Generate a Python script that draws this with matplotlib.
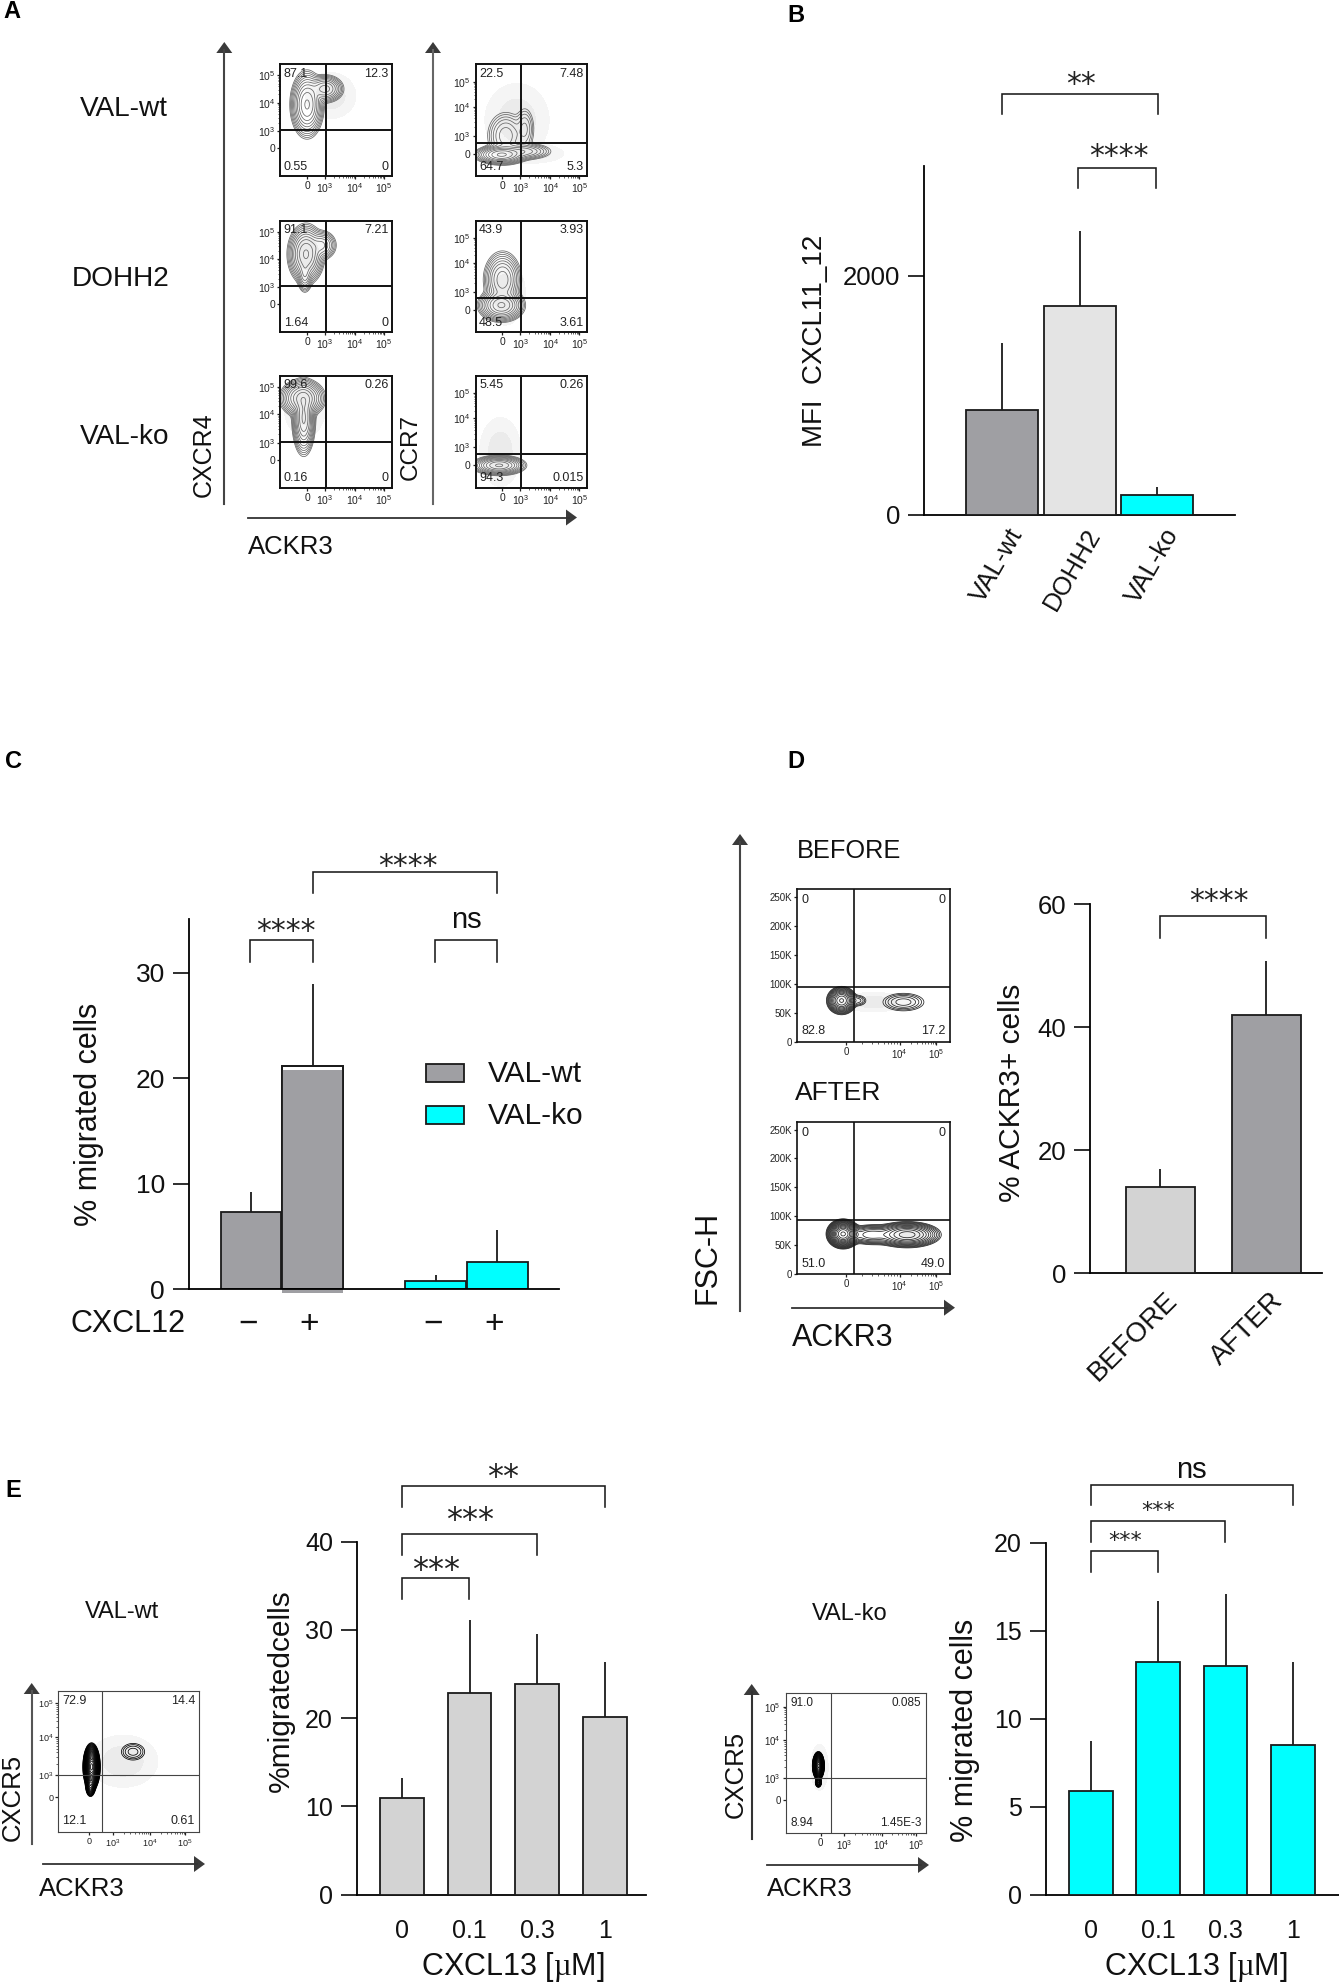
import numpy as np
import matplotlib
matplotlib.use("Agg")
from matplotlib import pyplot as plt
from matplotlib.patches import Polygon, Rectangle
from matplotlib.transforms import ScaledTranslation

W, H = 1339, 1987
plt.rcParams['font.family'] = ['Liberation Sans', 'DejaVu Sans']
plt.rcParams['mathtext.fontset'] = 'custom'
plt.rcParams['mathtext.rm'] = 'Liberation Serif'
plt.rcParams['mathtext.default'] = 'regular'

#---- bar data ----#
b_names = ["VAL-wt", "DOHH2", "VAL-ko"]
b_vals = [872, 1745, 161]
b_tops = [1433, 2372, 233]

c_vals = [7.3, 21.2, 0.8, 2.6]
c_tops = [9.2, 28.9, 1.35, 5.6]
c_signs = ["\u2212", "+", "\u2212", "+"]

d_names = ["BEFORE", "AFTER"]
d_vals = [14.1, 41.9]
d_tops = [17.0, 50.8]

dose = ["0", "0.1", "0.3", "1"]
e1_vals = [10.9, 22.8, 23.9, 20.1]
e1_tops = [13.2, 31.1, 29.5, 26.3]
e2_vals = [5.87, 13.2, 13.0, 8.5]
e2_tops = [8.7, 16.7, 17.1, 13.2]

#---- flow plots: quadrant percentages (UL, UR, LL, LR) ----#
q_a = [["87.1", "12.3", "0.55", "0"], ["22.5", "7.48", "64.7", "5.3"],
       ["91.1", "7.21", "1.64", "0"], ["43.9", "3.93", "48.5", "3.61"],
       ["99.6", "0.26", "0.16", "0"], ["5.45", "0.26", "94.3", "0.015"]]
q_d = [["0", "0", "82.8", "17.2"], ["0", "0", "51.0", "49.0"]]
q_e = [["72.9", "14.4", "12.1", "0.61"], ["91.0", "0.085", "8.94", "1.45E-3"]]

# populations: centre x, centre y, spread x, spread y, weight
# (in fractions of the plot box)
pop_a = [[(.24, .64, .05, .10, 1), (.40, .78, .06, .045, .45)],
         [(.23, .19, .08, .03, 1), (.27, .36, .07, .09, .12), (.42, .22, .10, .03, .2), (.44, .42, .04, .09, .06)],
         [(.23, .70, .055, .09, 1), (.37, .78, .05, .05, .25), (.22, .52, .025, .06, .3)],
         [(.23, .24, .07, .05, 1), (.24, .47, .06, .09, .5)],
         [(.20, .80, .07, .06, .7), (.21, .62, .035, .11, 1)],
         [(.21, .20, .08, .03, 1)]]
halo_a = [[(.45, .72, .11, .10)],
          [(.37, .50, .14, .16), (.50, .20, .14, .04)],
          [(.25, .70, .08, .12)],
          [(.26, .35, .09, .14)],
          [(.22, .72, .09, .13)],
          [(.22, .32, .09, .15)]]
pop_d = [[(.29, .27, .032, .03, 1), (.695, .26, .07, .03, .05), (.40, .27, .03, .02, .03)],
         [(.30, .265, .036, .032, 1), (.48, .26, .07, .03, .08), (.72, .26, .085, .033, .25)]]
halo_d = [[(.50, .26, .13, .03)], [(.75, .26, .06, .03)]]
pop_e = [[(.236, .46, .02, .055, 1), (.228, .32, .014, .03, .12), (.53, .567, .07, .05, .016)],
         [(.232, .48, .014, .033, 1), (.232, .36, .009, .014, .15)]]
halo_e = [[(.46, .50, .12, .09)], [(.24, .47, .03, .08)]]

dark = "#1a1a1a"
wt_grey = "#9f9fa3"
light = "#d3d3d3"
cyan = "#00ffff"

fig = plt.figure(figsize=(W / 100, H / 100), dpi=100, facecolor="white")

# overlay in pixel coordinates for labels, arrows and brackets
ov = fig.add_axes([0, 0, 1, 1], zorder=5)
ov.set_xlim(0, W)
ov.set_ylim(H, 0)
ov.axis("off")
ov.patch.set_alpha(0)


def axes_px(l, t, r, b):
    return fig.add_axes([l / W, 1 - b / H, (r - l) / W, (b - t) / H])


def label(x, y, s, size=19.5, rot=0, ha="center", color="#111111", weight="normal"):
    # centre of the text box sits a little off the centre of the capitals
    if rot:
        x += 2.5
    else:
        y += 2.5
    ov.text(x, y, s, fontsize=size, rotation=rot, ha=ha, va="center", color=color, fontweight=weight)


def bracket(x0, x1, top, bot0, bot1=None):
    bot1 = bot0 if bot1 is None else bot1
    ov.plot([x0, x0, x1, x1], [bot0, top, top, bot1], color=dark, lw=1.15, solid_joinstyle="miter")


def stars(cx, cy, n, size=21.5):
    # asterisk sits about half an em above the baseline in DejaVu
    ov.text(cx, cy + 0.5 * size / 0.72, "*" * n, fontsize=size, family="DejaVu Sans",
            ha="center", va="baseline", color="#222222")


def arrow_v(x, bottom, top, color="#444444"):
    ov.plot([x, x], [bottom, top + 8], color=color, lw=1.5)
    ov.add_patch(Polygon([[x - 8, top + 11], [x + 8, top + 11], [x, top]], color="#3a3a3a", lw=0))


def arrow_h(left, right, y, color="#333333"):
    ov.plot([left, right - 8], [y, y], color=color, lw=1.3)
    ov.add_patch(Polygon([[right - 11, y - 8], [right - 11, y + 8], [right, y]], color="#3a3a3a", lw=0))


def decade_minors(majors):
    out = []
    for lo, hi in zip(majors[:-1], majors[1:]):
        out += list(lo + (hi - lo) * np.log10(np.arange(2, 10)))
    return out


def flow(box, vline, hline, pops, halos, quads, xt, xl, yt, yl, tsize=7.5, qsize=9,
         lw_frame=1.4, frame="#111111", cline="#666666", nlev=11, minor_y=True):
    ax = axes_px(*box)
    grid = np.linspace(0, 1, 260)
    X, Y = np.meshgrid(grid, grid)
    if halos:
        Zh = sum(np.exp(-((X - cx) / sx) ** 2 / 2 - ((Y - cy) / sy) ** 2 / 2) for cx, cy, sx, sy in halos)
        ax.contourf(X, Y, Zh, levels=[0.12, 0.5, 99], colors=["#f5f5f5", "#ebebeb"])
    Z = sum(a * np.exp(-((X - cx) / sx) ** 2 / 2 - ((Y - cy) / sy) ** 2 / 2) for cx, cy, sx, sy, a in pops)
    ax.contour(X, Y, Z, levels=np.geomspace(0.008, 0.92, nlev), colors=cline, linewidths=0.55)
    ax.set_xlim(0, 1)
    ax.set_ylim(0, 1)
    vfrac = (vline - box[0]) / (box[2] - box[0])
    hfrac = (box[3] - hline) / (box[3] - box[1])
    ax.axvline(vfrac, color=frame, lw=lw_frame)
    ax.axhline(hfrac, color=frame, lw=lw_frame)
    for sp in ax.spines.values():
        sp.set_linewidth(lw_frame)
        sp.set_color(frame)
    ax.set_xticks(xt)
    ax.set_xticklabels(xl, fontsize=tsize, color="#222222")
    ax.set_yticks(yt)
    ax.set_yticklabels(yl, fontsize=tsize, color="#222222")
    ax.set_xticks(decade_minors(xt[-3:]), minor=True)
    if minor_y:
        ax.set_yticks(decade_minors(yt[-3:]), minor=True)
    ax.tick_params(axis="both", which="major", length=2.2, width=0.9, pad=1.5, color="#222222")
    ax.tick_params(axis="both", which="minor", length=1.2, width=0.5, color="#222222")
    pad = 0.03
    ax.text(pad, 1 - pad, quads[0], transform=ax.transAxes, fontsize=qsize, ha="left", va="top", color="#222222")
    ax.text(1 - pad, 1 - pad, quads[1], transform=ax.transAxes, fontsize=qsize, ha="right", va="top", color="#222222")
    ax.text(pad, pad, quads[2], transform=ax.transAxes, fontsize=qsize, ha="left", va="bottom", color="#222222")
    ax.text(1 - pad, pad, quads[3], transform=ax.transAxes, fontsize=qsize, ha="right", va="bottom", color="#222222")
    return ax


def bars(box, x, vals, tops, width, xlim, ylim, yticks, colors, lw=1.3, ysize=18):
    ax = axes_px(*box)
    ax.bar(x, vals, width=width, color=colors, edgecolor=dark, linewidth=lw, zorder=3)
    ax.vlines(x, vals, tops, color=dark, lw=1.3, zorder=2)
    ax.set_xlim(*xlim)
    ax.set_ylim(*ylim)
    ax.set_yticks(yticks)
    ax.tick_params(axis="y", length=11.5, width=1.15, pad=6, labelsize=ysize, labelcolor="#111111")
    ax.spines["top"].set_visible(False)
    ax.spines["right"].set_visible(False)
    ax.spines["left"].set_linewidth(1.3)
    ax.spines["bottom"].set_linewidth(1.3)
    ax.patch.set_alpha(0)
    return ax


def x_labels(ax, x, names, size, rot=0, dx=0, pad=0, ha="center"):
    ax.set_xticks(x)
    ax.set_xticklabels(names, fontsize=size, rotation=rot, ha=ha, rotation_mode="anchor" if rot else "default",
                       color="#111111")
    ax.tick_params(axis="x", length=0, pad=pad)
    shift = ScaledTranslation(dx / 100, 0, fig.dpi_scale_trans)
    for t in ax.get_xticklabels():
        t.set_transform(t.get_transform() + shift)


#---- panel letters ----#
for s, x, y in [("A", 12, 9), ("B", 796, 13), ("C", 13, 759), ("D", 796, 759), ("E", 13, 1488)]:
    label(x, y, s, size=17, weight="bold", color="black")

#---- A: flow ----#
xt_a = [.24, .40, .67, .93]
xl_a = ["0", "$10^3$", "$10^4$", "$10^5$"]
yt_left = [.25, .40, .657, .90]
yt_right = [.20, .36, .62, .845]
yl_a = ["0", "$10^3$", "$10^4$", "$10^5$"]
rows_a = [(64.3, 176, 130, 143.3), (220.7, 332, 286.3, 298.3), (376, 487.7, 442.3, 454.3)]
for i, (top, bot, h_l, h_r) in enumerate(rows_a):
    flow((280.3, top, 392, bot), 326.3, h_l, pop_a[2 * i], halo_a[2 * i], q_a[2 * i], xt_a, xl_a, yt_left, yl_a)
    flow((475.7, top, 587.3, bot), 520.7, h_r, pop_a[2 * i + 1], halo_a[2 * i + 1], q_a[2 * i + 1], xt_a, xl_a, yt_right, yl_a)

label(80, 106, "VAL-wt", size=20.2, ha="left")
label(72, 276, "DOHH2", size=20.2, ha="left")
label(80, 434, "VAL-ko", size=20.2, ha="left")
arrow_v(224.3, 504, 42)
arrow_v(433, 504, 42, color="#666666")
arrow_h(248, 577, 517.5)
label(201, 455, "CXCR4", size=18, rot=90)
label(408, 447, "CCR7", size=17.5, rot=90)
label(248, 545, "ACKR3", size=18.5, ha="left")

#---- B: bar ----#
ax_b = bars((924.3, 166.5, 1235, 514.5), np.arange(3), b_vals, b_tops, 0.927, (-1.0, 3.0), (0, 2913),
            [0, 2000], [wt_grey, "#e4e4e4", cyan], ysize=18.5)
x_labels(ax_b, np.arange(3), b_names, 18.5, rot=60, dx=5, pad=7, ha="right")
label(813, 341, "MFI  CXCL11_12", size=20, rot=90)
bracket(1001.7, 1157.7, 93.5, 113.5)
bracket(1078, 1156, 168, 188)
stars(1081, 78, 2)
stars(1119, 150, 4)

#---- C: bar with legend ----#
c_x = [0, 1, 3, 4]
ax_c = bars((189.3, 919, 559, 1289.3), c_x, c_vals, c_tops, 0.984, (-1.0, 5.0),
            (0, (1289.3 - 919) / 10.55), [0, 10, 20, 30], [wt_grey, "white", cyan, cyan], ysize=19)
# second bar: the grey fill stops short of the outline and runs under the axis
ax_c.add_patch(Rectangle((1 - 0.492, -0.35), 0.984, c_vals[1] - 0.05, facecolor=wt_grey, edgecolor="none",
                         zorder=3.1, clip_on=False))
ax_c.bar(1, c_vals[1], width=0.984, fill=False, edgecolor=dark, linewidth=1.3, zorder=3.2)
ax_c.spines["bottom"].set_zorder(4)
x_labels(ax_c, c_x, c_signs, 24, dx=-3, pad=14)
label(71, 1321, "CXCL12", size=22, ha="left")
label(87, 1114, "% migrated cells", size=22, rot=90)
ov.add_patch(Rectangle((425.7, 1064), 38, 18, facecolor=wt_grey, edgecolor=dark, lw=1.3))
ov.add_patch(Rectangle((425.7, 1106), 38, 18, facecolor=cyan, edgecolor=dark, lw=1.3))
label(487.5, 1071, "VAL-wt", size=21.5, ha="left")
label(487.5, 1113, "VAL-ko", size=21.5, ha="left")
bracket(312.5, 497, 872, 893)
bracket(250.4, 312.5, 940, 962)
bracket(435, 497, 940, 962)
stars(408, 860, 4)
stars(285.7, 925, 4)
label(466, 917, "ns", size=21)

#---- D: flow ----#
xt_d = [.32, .67, .91]
xl_d = ["0", "$10^4$", "$10^5$"]
yt_d = [0, 50000 / 263000, 100000 / 263000, 150000 / 263000, 200000 / 263000, 250000 / 263000]
yl_d = ["0", "50K", "100K", "150K", "200K", "250K"]
flow((797.3, 889.3, 950, 1041.7), 853.7, 987.3, pop_d[0], halo_d[0], q_d[0], xt_d, xl_d, yt_d, yl_d,
     tsize=7, lw_frame=1.2, cline="#222222", nlev=13, minor_y=False)
flow((797.3, 1122, 950, 1274.3), 853.7, 1220, pop_d[1], halo_d[1], q_d[1], xt_d, xl_d, yt_d, yl_d,
     tsize=7, lw_frame=1.2, cline="#222222", nlev=17, minor_y=False)
label(797, 849, "BEFORE", size=18.3, ha="left")
label(795, 1090, "AFTER", size=19, ha="left")
arrow_v(740, 1311, 834)
arrow_h(792, 955, 1307.7)
label(705, 1257, "FSC-H", size=22, rot=90)
label(792, 1336, "ACKR3", size=22, ha="left")

#---- D: bar ----#
ax_d = bars((1090.3, 904, 1322, 1273.3), [0, 1], d_vals, d_tops, 0.654, (-0.665, 1.53), (0, 60),
            [0, 20, 40, 60], [light, wt_grey], ysize=18.5)
x_labels(ax_d, [0, 1], d_names, 20, rot=45, dx=4, pad=10, ha="right")
label(1010, 1093, "% ACKR3+ cells", size=21.5, rot=90)
bracket(1160, 1266, 916, 938)
stars(1219, 895, 4)

#---- E: flow ----#
yl_e = ["0", "$10^3$", "$10^4$", "$10^5$"]
flow((58.3, 1690.7, 199.3, 1831.7), 102, 1775, pop_e[0], halo_e[0], q_e[0], [.22, .385, .65, .90], yl_e,
     [.243, .40, .67, .91], yl_e, tsize=6.5, lw_frame=0.8, frame="#444444", cline="black", nlev=26)
flow((786, 1693.3, 925.7, 1832.7), 831.3, 1778, pop_e[1], halo_e[1], q_e[1], [.248, .415, .685, .93], yl_e,
     [.234, .39, .665, .904], yl_e, tsize=7, lw_frame=0.8, frame="#444444", cline="black", qsize=8.5, nlev=26)
label(122, 1609, "VAL-wt", size=17)
label(850, 1611, "VAL-ko", size=17)
arrow_v(31.7, 1844, 1683, color="#555555")
arrow_h(43, 205, 1864)
label(10, 1797, "CXCR5", size=18.5, rot=90)
label(39, 1887, "ACKR3", size=18.5, ha="left")
arrow_v(751.7, 1839, 1684, color="#333333")
arrow_h(767, 929, 1865)
label(733, 1774, "CXCR5", size=18.5, rot=90)
label(767, 1886, "ACKR3", size=18.5, ha="left")

#---- E: bars ----#
ax_e1 = bars((357.3, 1541.6, 646, 1894.5), np.arange(4), e1_vals, e1_tops, 0.646,
             ((357.3 - 402) / 67.6, (646 - 402) / 67.6), (0, 40), [0, 10, 20, 30, 40], light, ysize=18)
x_labels(ax_e1, np.arange(4), dose, 18, pad=18)
label(513, 1965, "CXCL13 [$\\mathrm{\u00b5}$M]", size=22)
label(278, 1691, "%migratedcells", size=21.5, rot=90)
bracket(401.7, 605, 1486, 1507)
bracket(401.7, 537.3, 1534, 1555.4)
bracket(401.7, 469, 1577.7, 1598.7)
stars(503, 1470, 2, size=23)
stars(470, 1513, 3, size=23)
stars(435.7, 1562.6, 3, size=23)

ax_e2 = bars((1046.3, 1542.6, 1339, 1894.5), np.arange(4), e2_vals, e2_tops, 0.65,
             ((1046.3 - 1091) / 67.3, (1339 - 1091) / 67.3), (0, 20), [0, 5, 10, 15, 20], cyan, ysize=18)
x_labels(ax_e2, np.arange(4), dose, 18, pad=18)
label(1196, 1965, "CXCL13 [$\\mathrm{\u00b5}$M]", size=22)
label(963, 1730, "% migrated cells", size=22, rot=90)
bracket(1090.7, 1292.7, 1485, 1505.4)
bracket(1090.7, 1225.3, 1520.6, 1541.6)
bracket(1090.7, 1158.3, 1551.2, 1572)
stars(1158, 1506, 3, size=16)
stars(1125, 1535.7, 3, size=16)
label(1191.7, 1467, "ns", size=21)

fig.savefig("out.png", dpi=100, facecolor="white")
